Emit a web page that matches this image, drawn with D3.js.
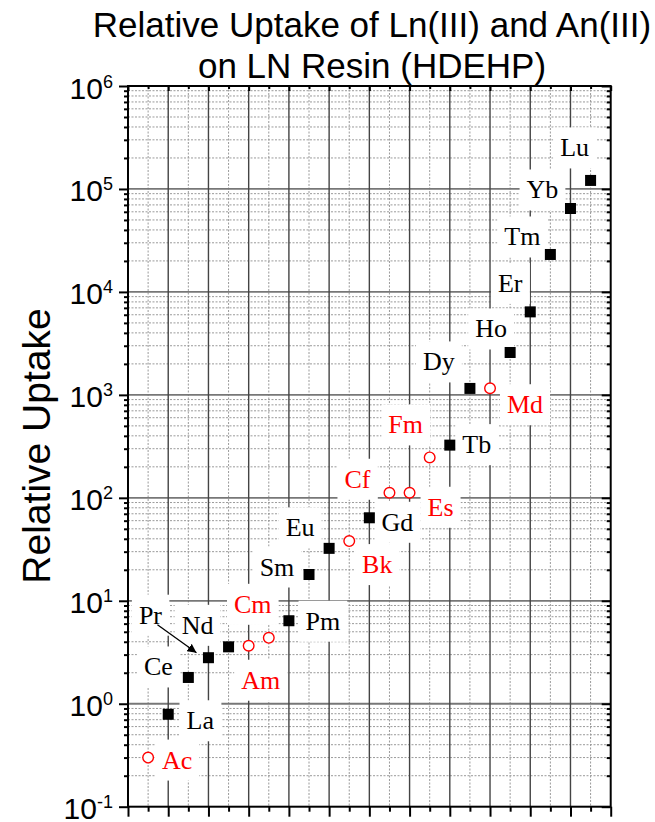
<!DOCTYPE html>
<html>
<head>
<meta charset="utf-8">
<script src="https://cdn.jsdelivr.net/npm/d3@7"></script>
<style>
  html, body { margin: 0; padding: 0; background: #fff; }
  svg { display: block; }
</style>
</head>
<body>
<svg id="chart" width="655" height="822"></svg>
<script>
// Lanthanides (filled squares)
const lnNames  = ["La","Ce","Pr","Nd","Pm","Sm","Eu","Gd","Tb","Dy","Ho","Er","Tm","Yb","Lu"];
const lnSlots  = [2, 3, 4, 5, 8, 9, 10, 12, 16, 17, 19, 20, 21, 22, 23];
const lnUptake = [0.79, 1.80, 2.8, 3.57, 6.4, 18.0, 32.3, 64, 325, 1155, 2580, 6400, 23100, 64600, 121000];

// Actinides (open circles)
const anNames  = ["Ac","Am","Cm","Bk","Cf","Es","Fm","Md"];
const anSlots  = [1, 6, 7, 11, 13, 14, 15, 18];
const anUptake = [0.30, 3.66, 4.37, 38, 112, 112, 247, 1160];

// Label placement relative to each marker (px)
const lnLabelDx = [32, -30, -58, -31, 34, -32, -29, 28, 27, -31, -19, -20, -28, -28, -16];
const lnLabelDy = [6, -11, -43, -22, 0, -8, -21, 4, -1, -27, -24, -29, -18, -19, -33];
const anLabelDx = [29, 12, -16, 28, -32, 31, -24, 35];
const anLabelDy = [2, 34, -34, 23, -14, 14, -33, 16];

const yDecades = [1e-1, 1e0, 1e1, 1e2, 1e3, 1e4, 1e5, 1e6];
const yExponents = ["-1", "0", "1", "2", "3", "4", "5", "6"];
const xDomain = [0, 24];

const titleLines = ["Relative Uptake of Ln(III) and An(III)", "on LN Resin (HDEHP)"];
const yTitle = "Relative Uptake";

const W = 655, H = 822;
const m = { left: 128, right: W - 610.7, top: 86, bottom: H - 806.7 };
const pw = W - m.left - m.right, ph = H - m.top - m.bottom;

const svg = d3.select("#chart");
const defs = svg.append("defs");
defs.append("marker")
  .attr("id", "arrow").attr("viewBox", "0 0 10 10")
  .attr("refX", 10).attr("refY", 5)
  .attr("markerWidth", 9).attr("markerHeight", 9)
  .attr("markerUnits", "userSpaceOnUse")
  .attr("orient", "auto")
  .append("path").attr("d", "M0,0 L10,5 L0,10 Z").attr("fill", "#000");

const x = d3.scaleLinear().domain(xDomain).range([0, pw]);
const y = d3.scaleLog().domain([1e-1, 1e6]).range([ph, 0]);

const g = svg.append("g").attr("transform", `translate(${m.left},${m.top})`);

// minor values for the log axis
const yMinor = [];
for (let e = -1; e < 6; e++) for (let k = 2; k <= 9; k++) yMinor.push(k * Math.pow(10, e));
const xMajor = d3.range(0, 25, 2);
const xMinor = d3.range(1, 24, 2);

// grid: minor dotted
const grid = g.append("g");
grid.selectAll("line.hmin").data(yMinor).join("line")
  .attr("x1", 0).attr("x2", pw)
  .attr("y1", d => y(d)).attr("y2", d => y(d))
  .attr("stroke", "#9a9a9a").attr("stroke-width", 1).attr("stroke-dasharray", "2,1.5");
grid.selectAll("line.vmin").data(xMinor).join("line")
  .attr("x1", d => x(d)).attr("x2", d => x(d))
  .attr("y1", 0).attr("y2", ph)
  .attr("stroke", "#9a9a9a").attr("stroke-width", 1).attr("stroke-dasharray", "2,1.5");
// grid: major solid
grid.selectAll("line.hmaj").data(yDecades.slice(1, -1)).join("line")
  .attr("x1", 0).attr("x2", pw)
  .attr("y1", d => y(d)).attr("y2", d => y(d))
  .attr("stroke", "#777").attr("stroke-width", 1.8);
grid.selectAll("line.vmaj").data(xMajor.slice(1, -1)).join("line")
  .attr("x1", d => x(d)).attr("x2", d => x(d))
  .attr("y1", 0).attr("y2", ph)
  .attr("stroke", "#444").attr("stroke-width", 1.4);

// axes
function styleAxis(sel) {
  sel.select(".domain").remove();
  sel.selectAll(".tick line").attr("stroke", "#000").attr("stroke-width", 2);
}
g.append("g").call(d3.axisLeft(y).tickValues(yDecades).tickSize(9).tickFormat("")).call(styleAxis);
g.append("g").call(d3.axisLeft(y).tickValues(yMinor).tickSize(4).tickFormat("")).call(styleAxis);
g.append("g").attr("transform", `translate(${pw},0)`)
  .call(d3.axisRight(y).tickValues(yDecades).tickSize(-9).tickFormat("")).call(styleAxis);
g.append("g").attr("transform", `translate(${pw},0)`)
  .call(d3.axisRight(y).tickValues(yMinor).tickSize(-4).tickFormat("")).call(styleAxis);
g.append("g").attr("transform", `translate(0,${ph})`)
  .call(d3.axisBottom(x).tickValues(xMajor).tickSize(10).tickFormat("")).call(styleAxis);
g.append("g").attr("transform", `translate(0,${ph})`)
  .call(d3.axisBottom(x).tickValues(xMinor).tickSize(5).tickFormat("")).call(styleAxis);
g.append("g").call(d3.axisTop(x).tickValues(xMajor).tickSize(-5).tickFormat("")).call(styleAxis);
g.append("g").call(d3.axisTop(x).tickValues(xMinor).tickSize(-3).tickFormat("")).call(styleAxis);

// y tick labels 10^n
const yl = g.append("g").attr("font-family", "Liberation Sans, Arial, sans-serif").attr("fill", "#000");
yDecades.forEach((v, i) => {
  const t = yl.append("text")
    .attr("x", -15).attr("y", y(v) + 12.5)
    .attr("text-anchor", "end").attr("font-size", 30);
  t.append("tspan").text("10");
  t.append("tspan").attr("font-size", 18).attr("dy", -11).text(yExponents[i]);
});

// frame
g.append("rect").attr("width", pw).attr("height", ph)
  .attr("fill", "none").attr("stroke", "#000").attr("stroke-width", 2);

// point labels with white backing boxes
const labelLayer = g.append("g");
function addLabel(name, slot, val, dx, dy, color) {
  const t = labelLayer.append("text")
    .attr("x", x(slot) + dx).attr("y", y(val) + dy + 9)
    .attr("text-anchor", "middle")
    .attr("font-family", "Liberation Serif, Times New Roman, serif")
    .attr("font-size", 26).attr("fill", color).text(name);
  const b = t.node().getBBox();
  labelLayer.insert("rect", "text")
    .attr("x", b.x - 7).attr("y", b.y - 6)
    .attr("width", b.width + 14).attr("height", b.height + 12)
    .attr("fill", "#fff");
}
lnNames.forEach((n, i) => addLabel(n, lnSlots[i], lnUptake[i], lnLabelDx[i], lnLabelDy[i], "#000"));
anNames.forEach((n, i) => addLabel(n, anSlots[i], anUptake[i], anLabelDx[i], anLabelDy[i], "#ff0000"));

// arrow from the Pr label to its marker
const prI = lnNames.indexOf("Pr");
g.append("line")
  .attr("x1", x(lnSlots[prI]) - 51).attr("y1", y(lnUptake[prI]) - 33)
  .attr("x2", x(lnSlots[prI]) - 12).attr("y2", y(lnUptake[prI]) - 5)
  .attr("stroke", "#000").attr("stroke-width", 1.3)
  .attr("marker-end", "url(#arrow)");

// markers
const sq = 11;
g.append("g").selectAll("rect").data(lnSlots).join("rect")
  .attr("x", (d, i) => x(d) - sq / 2).attr("y", (d, i) => y(lnUptake[i]) - sq / 2)
  .attr("width", sq).attr("height", sq).attr("fill", "#000");
g.append("g").selectAll("circle").data(anSlots).join("circle")
  .attr("cx", d => x(d)).attr("cy", (d, i) => y(anUptake[i]))
  .attr("r", 5.3).attr("fill", "#fff").attr("stroke", "#ff0000").attr("stroke-width", 1.4);

// titles
svg.append("g").attr("font-family", "Liberation Sans, Arial, sans-serif").attr("fill", "#000")
  .selectAll("text").data(titleLines).join("text")
  .attr("x", 372).attr("y", (d, i) => 37 + i * 41)
  .attr("text-anchor", "middle").attr("font-size", 35).text(d => d);

svg.append("text")
  .attr("transform", `translate(50,446) rotate(-90)`)
  .attr("text-anchor", "middle")
  .attr("font-family", "Liberation Sans, Arial, sans-serif")
  .attr("font-size", 39).attr("fill", "#000").text(yTitle);
</script>
</body>
</html>
